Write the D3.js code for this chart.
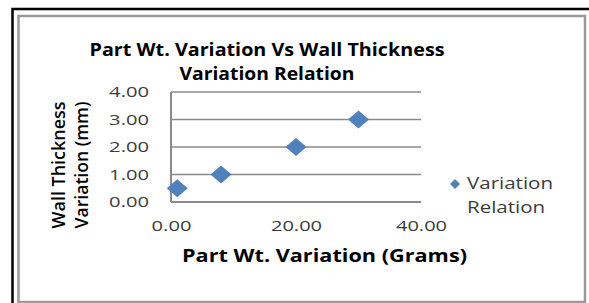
<!DOCTYPE html>
<html>
<head>
<meta charset="utf-8">
<script src="https://cdn.jsdelivr.net/npm/d3@7"></script>
<style>
  body { margin: 0; background: #fff; }
  text { font-family: "Open Sans", sans-serif; }
</style>
</head>
<body>
<div id="chart"></div>
<script>
// data
const partWt = [1, 8, 20, 30];          // x, grams
const wallThk = [0.5, 1, 2, 3];         // y, mm
const seriesName = "Variation Relation";
const xTicks = [0, 20, 40];
const yTicks = [0, 1, 2, 3, 4];
const titleLines = ["Part Wt. Variation Vs Wall Thickness", "Variation Relation"];
const yTitleLines = ["Wall Thickness", "Variation (mm)"];
const xTitle = "Part Wt. Variation (Grams)";

const width = 589, height = 303;
const plot = {left: 171, right: 421, top: 92, bottom: 202};
const blue = "#4f81bd";

const svg = d3.select("#chart").append("svg")
    .attr("width", width)
    .attr("height", height);

// outer frame (black, partly cropped) and inner gray chart border
svg.append("path")
    .attr("d", `M12.5,303 V9 H589`)
    .attr("fill", "none")
    .attr("stroke", "#000")
    .attr("stroke-width", 2.5);
svg.append("rect")
    .attr("x", 18.5).attr("y", 16)
    .attr("width", 566.5).attr("height", 286)
    .attr("fill", "#fff")
    .attr("stroke", "#9a9a9a")
    .attr("stroke-width", 2.5);

const x = d3.scaleLinear().domain([0, 40]).range([plot.left, plot.right]);
const y = d3.scaleLinear().domain([0, 4]).range([plot.bottom, plot.top]);
const fmt = d3.format(".2f");

// rough width of a numeric label, the source picture is stretched sideways
const labelLen = s => s.replace(/[^0-9]/g, "").length * 11.3 + 6;

// gridlines
svg.append("g")
    .selectAll("line")
    .data(yTicks.filter(d => d > 0))
    .join("line")
    .attr("x1", plot.left).attr("x2", plot.right)
    .attr("y1", d => y(d)).attr("y2", d => y(d))
    .attr("stroke", "#8a8a8a")
    .attr("stroke-width", 1.6);

// axis lines
svg.append("line")
    .attr("x1", plot.left).attr("x2", plot.left)
    .attr("y1", plot.top).attr("y2", plot.bottom)
    .attr("stroke", "#8a8a8a").attr("stroke-width", 2);
svg.append("line")
    .attr("x1", plot.left).attr("x2", plot.right)
    .attr("y1", plot.bottom).attr("y2", plot.bottom)
    .attr("stroke", "#8a8a8a").attr("stroke-width", 2);

// tick labels
svg.append("g")
    .attr("transform", `translate(${plot.left},0)`)
    .call(d3.axisLeft(y).tickValues(yTicks).tickFormat(fmt).tickSize(0).tickPadding(22))
    .call(g => g.select(".domain").remove())
    .call(g => g.selectAll("text")
        .attr("font-family", "Open Sans, sans-serif")
        .attr("font-size", 15)
        .attr("fill", "#3c3c3c")
        .attr("textLength", d => labelLen(fmt(d)))
        .attr("lengthAdjust", "spacingAndGlyphs"));

svg.append("g")
    .attr("transform", `translate(0,${plot.bottom})`)
    .call(d3.axisBottom(x).tickValues(xTicks).tickFormat(fmt).tickSize(0).tickPadding(18))
    .call(g => g.select(".domain").remove())
    .call(g => g.selectAll("text")
        .attr("font-family", "Open Sans, sans-serif")
        .attr("font-size", 15)
        .attr("fill", "#3c3c3c")
        .attr("textLength", d => labelLen(fmt(d)))
        .attr("lengthAdjust", "spacingAndGlyphs"));

// diamonds
const diamond = (hw, hh) => `M0,${-hh}L${hw},0L0,${hh}L${-hw},0Z`;
svg.append("g")
    .selectAll("path")
    .data(partWt)
    .join("path")
    .attr("d", diamond(10.5, 9))
    .attr("transform", (d, i) => `translate(${x(d)},${y(wallThk[i])})`)
    .attr("fill", blue);

// chart title
const titleLen = [355, 175];
svg.append("g")
    .selectAll("text")
    .data(titleLines)
    .join("text")
    .attr("x", 267)
    .attr("y", (d, i) => 56 + i * 24)
    .attr("text-anchor", "middle")
    .attr("font-size", 17.5)
    .attr("font-weight", "bold")
    .attr("fill", "#000")
    .attr("textLength", (d, i) => titleLen[i])
    .attr("lengthAdjust", "spacingAndGlyphs")
    .text(d => d);

// y axis title
svg.append("g")
    .selectAll("text")
    .data(yTitleLines)
    .join("text")
    .attr("transform", (d, i) => `translate(${65 + i * 23},165) rotate(-90)`)
    .attr("text-anchor", "middle")
    .attr("font-size", 18)
    .attr("font-weight", 600)
    .attr("fill", "#000")
    .attr("textLength", 127)
    .attr("lengthAdjust", "spacingAndGlyphs")
    .text(d => d);

// x axis title
svg.append("text")
    .attr("x", 324.5)
    .attr("y", 262)
    .attr("text-anchor", "middle")
    .attr("font-size", 17.5)
    .attr("font-weight", "bold")
    .attr("fill", "#000")
    .attr("textLength", 285)
    .attr("lengthAdjust", "spacingAndGlyphs")
    .text(xTitle);

// legend
const legend = svg.append("g").attr("transform", "translate(455,184)");
legend.append("path")
    .attr("d", diamond(5, 5))
    .attr("fill", blue);
const legendLines = seriesName.split(" ");
const legendLen = [86, 78];
legend.selectAll("text")
    .data(legendLines)
    .join("text")
    .attr("x", 12)
    .attr("y", (d, i) => 5 + i * 24)
    .attr("font-size", 16)
    .attr("fill", "#3c3c3c")
    .attr("textLength", (d, i) => legendLen[i])
    .attr("lengthAdjust", "spacingAndGlyphs")
    .text(d => d);
</script>
</body>
</html>
